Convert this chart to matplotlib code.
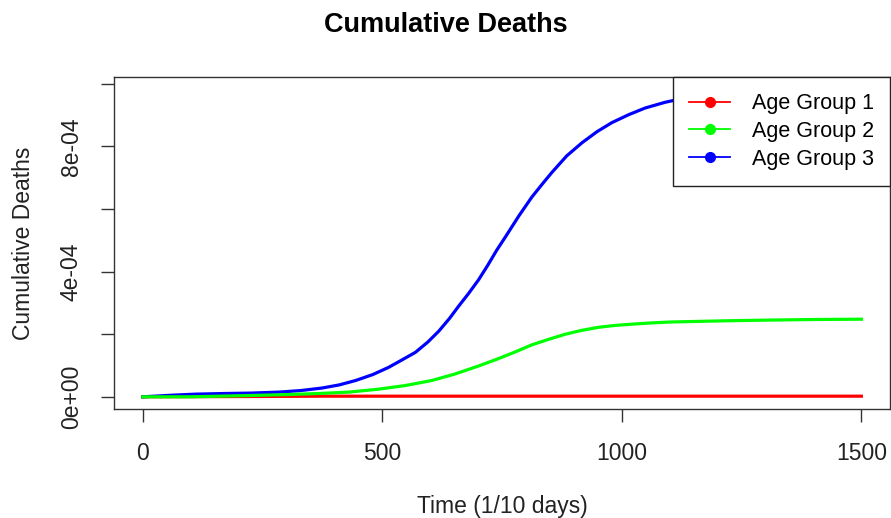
import matplotlib
matplotlib.use("Agg")
import matplotlib.pyplot as plt
from matplotlib.lines import Line2D

plt.rcParams['font.family'] = ['Liberation Sans', 'DejaVu Sans']

# cumulative deaths, values in units of 1e-4
time1 = [0, 225, 375, 800, 1500]
group1 = [0.0, 0.01, 0.02, 0.02, 0.02]

time2 = [0, 100, 221, 300, 374, 430, 490, 548, 603, 652, 700, 739, 780, 812, 850,
         882, 915, 951, 985, 1020, 1060, 1100, 1160, 1220, 1300, 1400, 1500]
group2 = [0.0, 0.0, 0.04, 0.07, 0.11, 0.15, 0.24, 0.36, 0.52, 0.73, 0.98, 1.2, 1.45,
          1.66, 1.85, 2.0, 2.12, 2.22, 2.28, 2.32, 2.36, 2.39, 2.41, 2.43, 2.45, 2.47, 2.48]

time3 = [0, 60, 110, 170, 228, 284, 330, 374, 410, 444, 480, 513, 540, 569, 595, 618,
         640, 659, 680, 701, 720, 739, 757, 785, 812, 834, 854, 885, 917, 948, 979,
         1015, 1049, 1090, 1132, 1200, 1300, 1400, 1500]
group3 = [0.0, 0.05, 0.085, 0.105, 0.12, 0.15, 0.2, 0.28, 0.38, 0.52, 0.71, 0.94, 1.17,
          1.42, 1.75, 2.1, 2.5, 2.89, 3.3, 3.74, 4.2, 4.69, 5.11, 5.78, 6.38, 6.8, 7.17,
          7.7, 8.12, 8.47, 8.76, 9.02, 9.23, 9.41, 9.55, 9.64, 9.72, 9.75, 9.77]

labels = ['Age Group 1', 'Age Group 2', 'Age Group 3']
colors = ['#ff0000', '#00ff00', '#0000ff']

fig = plt.figure(figsize=(8.91, 5.18), dpi=100)
ax = fig.add_axes([0.128, 0.2104, 0.871, 0.641])

series = [(time1, group1), (time2, group2), (time3, group3)]
zorders = [2, 4, 3]
for (t, vals), col, z in zip(series, colors, zorders):
    ax.plot(t, [v * 1e-4 for v in vals], color=col, lw=2.3, zorder=z)

ax.set_xlim(-60, 1560)
ax.set_ylim(-0.39e-4, 10.22e-4)

ax.set_xticks([0, 500, 1000, 1500])
ax.set_yticks([0, 2e-4, 4e-4, 6e-4, 8e-4, 10e-4])
ax.set_yticklabels(['0e+00', '', '4e-04', '', '8e-04', ''], rotation=90, va='center')

for s in ax.spines.values():
    s.set_color('#333333')
    s.set_linewidth(1.0)
ax.tick_params(direction='out', length=9.5, width=1.0, color='#333333',
               labelsize=16.5, labelcolor='#222222')
ax.tick_params(axis='x', pad=14)
ax.tick_params(axis='y', pad=13)

ax.set_xlabel('Time (1/10 days)', fontsize=16.5, color='#222222', labelpad=22)
ax.set_ylabel('Cumulative Deaths', fontsize=16.5, color='#222222', labelpad=18)
fig.suptitle('Cumulative Deaths', fontsize=19.5, fontweight='bold', y=0.976)

handles = [Line2D([], [], color=c, lw=1.3, marker='o', markersize=7) for c in colors]
leg = ax.legend(handles, labels, loc='upper right', bbox_to_anchor=(1.0, 1.0),
                fontsize=15.5, frameon=True, fancybox=False, framealpha=1,
                borderaxespad=0, handlelength=1.9, handletextpad=1.0,
                labelspacing=0.32, borderpad=0.75)
leg.get_frame().set_edgecolor('#222222')
leg.get_frame().set_linewidth(1.0)
leg.set_zorder(10)

fig.savefig('out.png', dpi=100)
